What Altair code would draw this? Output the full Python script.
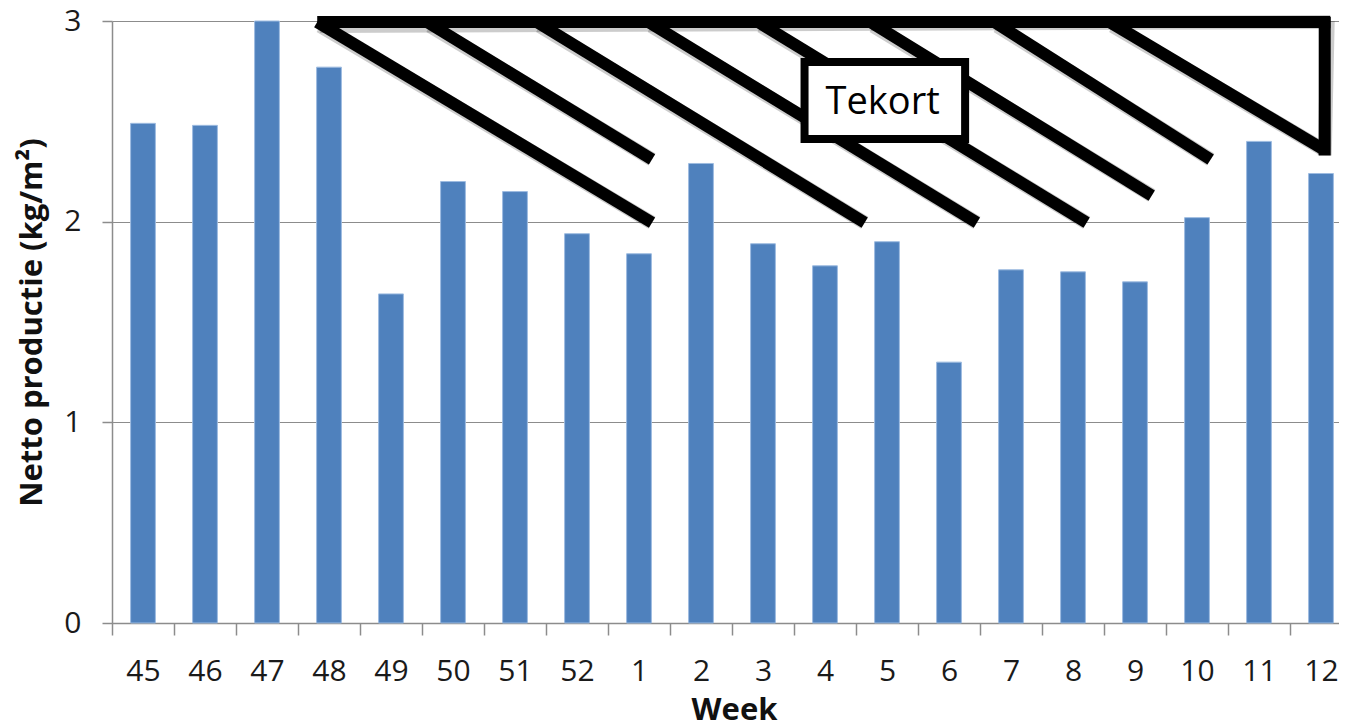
import altair as alt
import pandas as pd

# ---- data ----
weeks = ["45", "46", "47", "48", "49", "50", "51", "52", "1", "2",
         "3", "4", "5", "6", "7", "8", "9", "10", "11", "12"]
values = [2.49, 2.48, 3.00, 2.77, 1.64, 2.20, 2.15, 1.94, 1.84, 2.29,
          1.89, 1.78, 1.90, 1.30, 1.76, 1.75, 1.70, 2.02, 2.40, 2.24]

# annotation ("Tekort" hatched triangle), in category-index / value units
seg_x = [3.31, 5.08, 6.85, 8.65, 10.42, 12.23, 14.23, 16.09, 3.31, 19.56]
seg_y = [2.995, 2.995, 2.995, 2.995, 2.995, 2.995, 2.995, 2.995, 2.995, 3.02]
seg_x2 = [8.71, 8.71, 12.14, 13.95, 15.72, 16.77, 17.72, 19.54, 19.65, 19.56]
seg_y2 = [1.995, 2.31, 1.995, 1.995, 1.995, 2.13, 2.31, 2.36, 2.995, 2.33]

box_x, box_x2 = [11.17], [13.76]
box_y, box_y2 = [2.796], [2.412]
label_x, label_y, label_text = [12.43], [2.535], ["Tekort"]

FONT = "Open Sans"

bars_df = pd.DataFrame({"Week": weeks, "value": values})
seg_df = pd.DataFrame({"x": seg_x, "y": seg_y, "x2": seg_x2, "y2": seg_y2})
box_df = pd.DataFrame({"x": box_x, "x2": box_x2, "y": box_y, "y2": box_y2})
lab_df = pd.DataFrame({"x": label_x, "y": label_y, "t": label_text})

ysc = alt.Scale(domain=[0, 3], nice=False, zero=True)
xq = alt.Scale(domain=[0, 20], nice=False, zero=False)

bars = alt.Chart(bars_df).mark_bar(color="#4F81BD", stroke="#9DBBE0", strokeWidth=1,
                                   width=alt.RelativeBandSize(0.4)).encode(
    x=alt.X("Week:N", sort=weeks,
            scale=alt.Scale(paddingInner=0, paddingOuter=0),
            axis=alt.Axis(title="Week", labelAngle=0, tickBand="extent",
                          labelBaseline="alphabetic", labelPadding=45, tickSize=12,
                          labelOverlap=False,
                          titleX=622, titleY=96, titleBaseline="alphabetic",
                          titleAlign="center", grid=False)),
    y=alt.Y("value:Q", scale=ysc,
            axis=alt.Axis(title="Netto productie (kg/m²)", values=[0, 1, 2, 3],
                          format="d", tickSize=10, labelPadding=21, grid=True,
                          titleAngle=270, titleX=-80, titleY=301,
                          titleAlign="center", titleBaseline="middle")),
)

shadow = alt.Chart(seg_df).mark_rule(color="black", opacity=0.2, strokeWidth=14,
                                     strokeCap="butt", xOffset=3, yOffset=4).encode(
    x=alt.X("x:Q", scale=xq, axis=None), x2="x2",
    y=alt.Y("y:Q", scale=ysc), y2="y2")

lines = alt.Chart(seg_df).mark_rule(color="black", strokeWidth=12, strokeCap="butt").encode(
    x=alt.X("x:Q", scale=xq, axis=None), x2="x2",
    y=alt.Y("y:Q", scale=ysc), y2="y2")

box_shadow = alt.Chart(box_df).mark_rect(fill="black", opacity=0.2, xOffset=3, yOffset=4).encode(
    x=alt.X("x:Q", scale=xq, axis=None), x2="x2",
    y=alt.Y("y:Q", scale=ysc), y2="y2")

box = alt.Chart(box_df).mark_rect(fill="white", stroke="black", strokeWidth=8).encode(
    x=alt.X("x:Q", scale=xq, axis=None), x2="x2",
    y=alt.Y("y:Q", scale=ysc), y2="y2")

label = alt.Chart(lab_df).mark_text(font=FONT, fontSize=38, color="black",
                                    align="center", baseline="alphabetic").encode(
    x=alt.X("x:Q", scale=xq, axis=None),
    y=alt.Y("y:Q", scale=ysc), text="t:N")

chart = alt.layer(bars, shadow, lines, box_shadow, box, label).resolve_scale(
    x="independent"
).properties(
    width=1240, height=602,
    autosize=alt.AutoSizeParams(type="none"),
    padding={"left": 104, "top": 13, "right": -13, "bottom": 105},
    background="white",
).configure_view(stroke=None).configure_axis(
    labelFont=FONT, labelFontSize=30, labelColor="#1a1a1a",
    titleFont=FONT, titleFontSize=31, titleFontWeight="bold", titleColor="#111",
    domainColor="#8c8c8c", domainWidth=1.5, tickColor="#8c8c8c", tickWidth=1.5,
    gridColor="#8c8c8c", gridWidth=1.2,
)

chart.save("out.html", embed_options={"renderer": "svg", "actions": False})
